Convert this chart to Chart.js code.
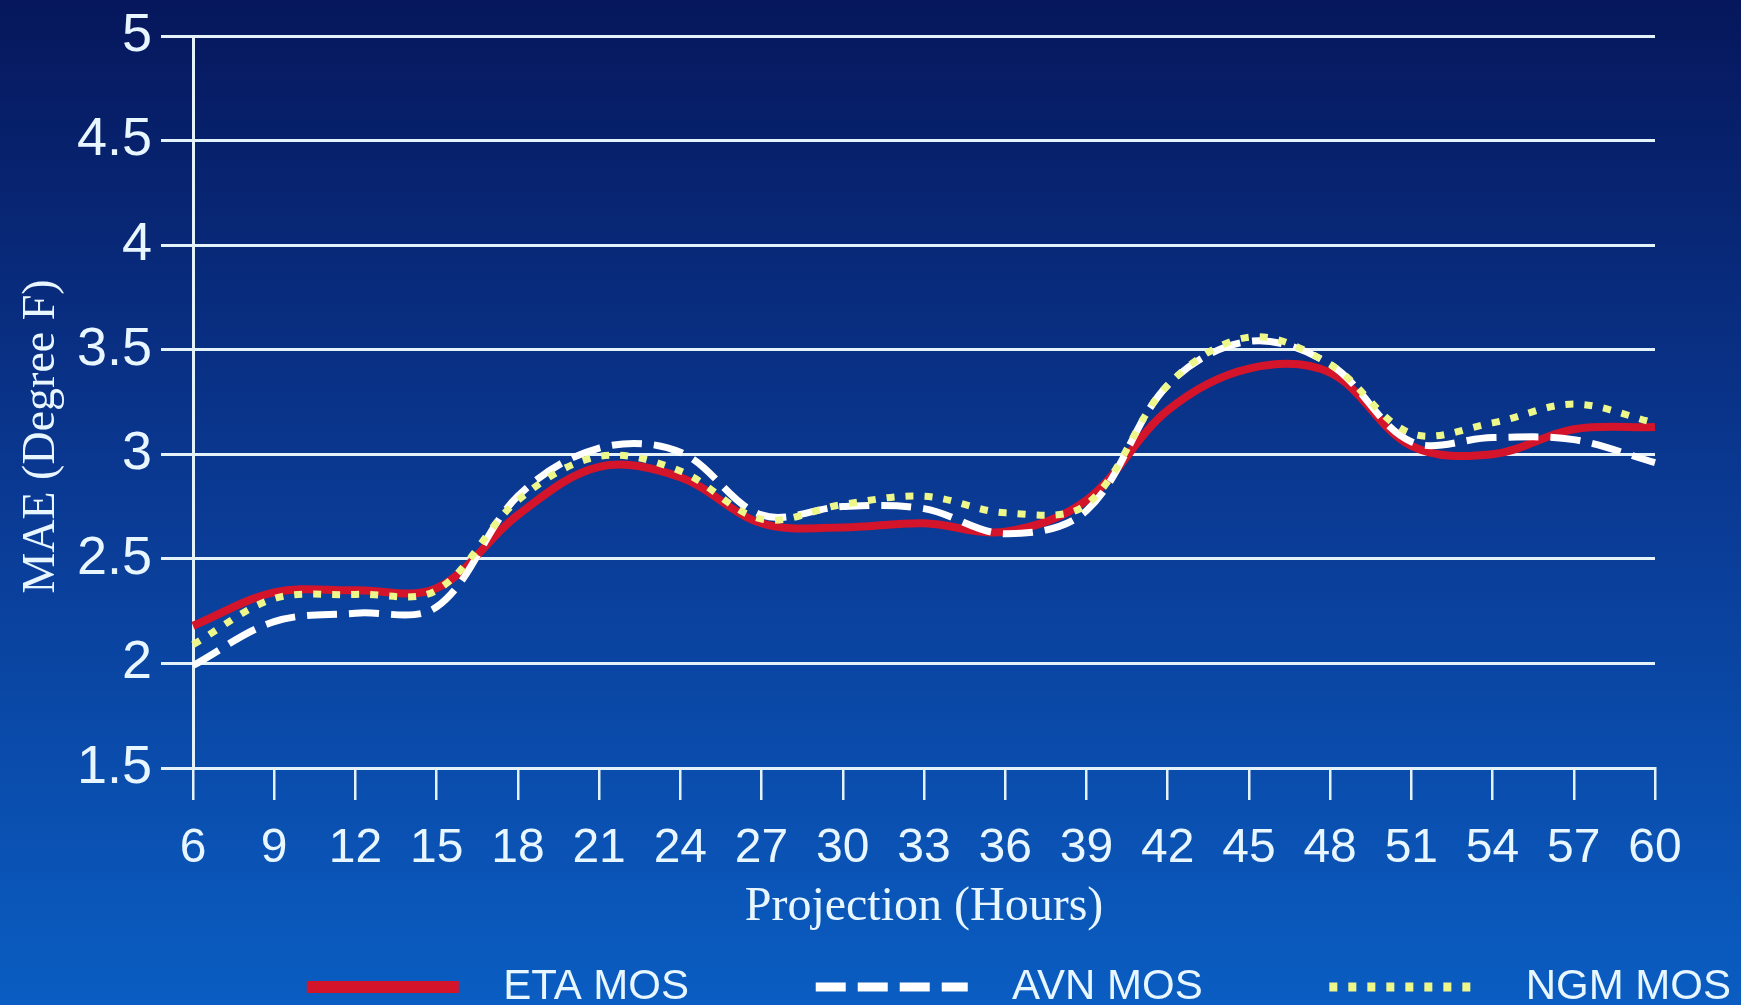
<!DOCTYPE html>
<html>
<head>
<meta charset="utf-8">
<title>MAE por proyección</title>
<script src="https://cdn.jsdelivr.net/npm/chart.js@4.4.1/dist/chart.umd.min.js"></script>
<style>
  html, body { margin: 0; padding: 0; background: #0a3a92; }
  canvas { display: block; }
</style>
</head>
<body>
<canvas id="graficaMAE" width="1741" height="1005"></canvas>
<script>
// datos
const horas = ["6","9","12","15","18","21","24","27","30","33","36","39","42","45","48","51","54","57","60"];
const etaMos = [2.18,2.34,2.35,2.36,2.71,2.94,2.89,2.67,2.65,2.67,2.63,2.78,3.21,3.41,3.39,3.04,3.00,3.12,3.13];
const avnMos = [1.99,2.20,2.24,2.27,2.80,3.03,3.01,2.71,2.75,2.74,2.62,2.73,3.33,3.54,3.43,3.06,3.08,3.07,2.96];
const ngmMos = [2.09,2.31,2.33,2.35,2.78,2.99,2.92,2.69,2.76,2.80,2.72,2.76,3.33,3.56,3.43,3.10,3.15,3.24,3.15];
const ticksY = [1.5,2,2.5,3,3.5,4,4.5,5];

document.addEventListener("DOMContentLoaded", function(event) {
    GraficoMAE();
});

//----------------------------------------------------------------------------
function GraficoMAE(){
const ctx = document.getElementById('graficaMAE');
const colorTexto = '#e8f6ff';
const colorLinea = '#e4f2fa';

const datosEta = {
    label: "ETA MOS",
    data: etaMos,
    borderColor: '#d4142a',
    backgroundColor: '#d4142a',
    borderWidth: 8,
    pointRadius: 0,
    pointStyle: 'line',
    tension: 0.35,
    order: 3,
}
const datosAvn = {
    label: "AVN MOS",
    data: avnMos,
    borderColor: '#ffffff',
    backgroundColor: '#ffffff',
    borderWidth: 7,
    borderDash: [30, 12],
    pointRadius: 0,
    pointStyle: 'line',
    tension: 0.35,
    order: 2,
}
const datosNgm = {
    label: "NGM MOS",
    data: ngmMos,
    borderColor: '#eef88a',
    backgroundColor: '#eef88a',
    borderWidth: 7,
    borderDash: [8, 11],
    pointRadius: 0,
    pointStyle: 'line',
    tension: 0.35,
    order: 1,
}

// fondo degradado azul
const fondo = {
    id: 'fondo_degradado',
    beforeDraw: (chart) => {
      const c = chart.ctx;
      const g = c.createLinearGradient(0, 0, 0, chart.height);
      g.addColorStop(0, '#06175c');
      g.addColorStop(0.5, '#0a3a94');
      g.addColorStop(1, '#0a5dc2');
      c.save();
      c.fillStyle = g;
      c.fillRect(0, 0, chart.width, chart.height);
      c.restore();
    }
};

const myChart = new Chart(ctx, {
    type: 'line',
    data: {
        labels: horas,
        datasets: [datosEta, datosAvn, datosNgm]
    },
    plugins: [fondo],
    options: {
        responsive: false,
        animation: false,
        layout: { padding: { top: 35, right: 0, bottom: -13, left: 0 } },
        plugins: {
            tooltip: { enabled: false },
            legend: {
                position: 'bottom',
                align: 'end',
                labels: {
                    color: colorTexto,
                    font: { family: 'Liberation Sans', size: 42 },
                    usePointStyle: true,
                    pointStyleWidth: 152,
                    padding: 10,
                    sort: (a, b) => a.datasetIndex - b.datasetIndex,
                    generateLabels: function(chart) {
                        const items = Chart.defaults.plugins.legend.labels.generateLabels(chart);
                        const n = chart.data.datasets.length;
                        items.forEach(function(it) {
                            const ds = chart.data.datasets[it.datasetIndex];
                            it.text = '  ' + it.text + (it.datasetIndex < n - 1 ? ' '.repeat(10) : '');
                            it.lineWidth = it.datasetIndex === 0 ? 12 : 9;
                            it.lineDash = ds.borderDash || [];
                            it.strokeStyle = ds.borderColor;
                        });
                        return items;
                    }
                }
            }
        },
        scales: {
            x: {
                grid: {
                    drawOnChartArea: false,
                    drawTicks: true,
                    tickLength: 32,
                    color: colorLinea,
                    lineWidth: 2.5,
                },
                border: { display: true, color: colorLinea, width: 3 },
                ticks: {
                    color: colorTexto,
                    font: { family: 'Liberation Sans', size: 48 },
                    padding: 20,
                    autoSkip: false,
                    maxRotation: 0,
                },
                title: {
                    display: true,
                    text: 'Projection (Hours)',
                    color: colorTexto,
                    font: { family: 'Liberation Serif', size: 48 },
                    padding: { top: 0, bottom: 20 },
                },
                afterFit: function(scale) { scale.height = 188; }
            },
            y: {
                min: 1.5,
                max: 5,
                afterBuildTicks: function(scale) {
                    scale.ticks = ticksY.map(v => ({ value: v }));
                },
                grid: {
                    color: colorLinea,
                    lineWidth: 3,
                    tickLength: 32,
                },
                border: { display: true, color: colorLinea, width: 3 },
                ticks: {
                    color: colorTexto,
                    font: { family: 'Liberation Sans', size: 54, lineHeight: 1.0 },
                    padding: 9,
                    callback: v => String(v),
                },
                title: {
                    display: true,
                    text: 'MAE (Degree F)      ',
                    color: colorTexto,
                    font: { family: 'Liberation Serif', size: 46 },
                    padding: { top: 14, bottom: 0 },
                },
                afterFit: function(scale) { scale.width = 193; }
            },
            derecha: {
                position: 'right',
                display: true,
                grid: { display: false },
                border: { display: false },
                ticks: { display: false },
                afterFit: function(scale) { scale.width = 86; }
            }
        }
    }
});
};
//----------------------------------------------------------------------------
</script>
</body>
</html>
